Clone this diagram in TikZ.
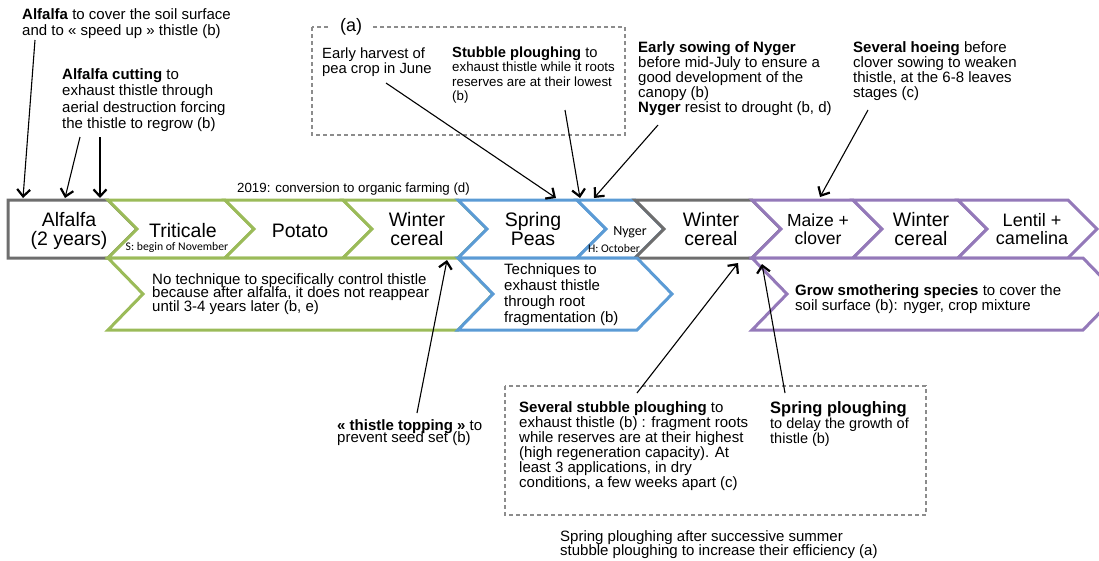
\documentclass[tikz,border=0pt]{standalone}
\usepackage{fontspec}
\setmainfont{Liberation Sans}
\newfontfamily\calib{Carlito}
\usetikzlibrary{arrows.meta}
\definecolor{cgrey}{HTML}{6E6E6E}
\definecolor{cgreen}{HTML}{9BBB59}
\definecolor{cblue}{HTML}{5B9BD5}
\definecolor{cpurple}{HTML}{9479B9}
\definecolor{dashgrey}{HTML}{8C8C8C}
\newcommand\fsz[2]{\fontsize{#1}{#2}\selectfont\lineskiplimit=-50pt\relax}
\newcommand\chevron[6]{%
  \draw[#1, chev] (#2,#4) -- (#3,#4) -- ({#3+#6},{(#4+#5)/2}) -- (#3,#5) -- (#2,#5) -- ({#2+#6},{(#4+#5)/2}) -- cycle;}
\begin{document}
\begin{tikzpicture}[x=1pt,y=-1pt,
  chev/.style={line width=3pt, fill=white, line join=miter},
  croplabel/.style={font=\fsz{19.5}{19}, align=center, inner sep=0pt, anchor=base},
  smalllabel/.style={font=\calib\fsz{11.7}{12}, inner sep=0pt, anchor=base},
  note/.style={align=left, inner sep=0pt, anchor=base west},
  arr/.style={-{Straight Barb[length=7pt,width=13pt,line width=2.2pt]}, line width=1.1pt, black},
  dashbox/.style={dashgrey, line width=1.2pt, dash pattern=on 4pt off 3pt}]
\useasboundingbox (0,0) rectangle (1099,560);
\clip (0,0) rectangle (1099,560);

% dashed boxes
\draw[dashbox] (312,27) rectangle (625,135);
\node[font=\fsz{18}{18}, fill=white, inner xsep=10pt, inner ysep=1pt] (alab) at (351,27) {(a)};
\draw[dashbox] (505,386) rectangle (926,515);

% top row
\draw[cgrey, chev] (8,200) -- (108,200) -- (137,229) -- (108,258) -- (8,258) -- cycle;
\chevron{cgreen}{108}{225}{200}{258}{29}
\chevron{cgreen}{225}{343}{200}{258}{29}
\chevron{cgreen}{343}{458}{200}{258}{29}
\chevron{cblue}{458}{577}{200}{258}{29}
\chevron{cblue}{577}{635}{200}{258}{29}
\chevron{cgrey}{635}{752}{200}{258}{29}
\chevron{cpurple}{752}{853}{200}{258}{29}
\chevron{cpurple}{853}{958}{200}{258}{29}
\chevron{cpurple}{958}{1068}{200}{258}{29}
% lower row
\chevron{cgreen}{108}{458}{258}{330}{35}
\chevron{cblue}{458}{637}{258}{330}{35}
\chevron{cpurple}{752}{1083}{258}{330}{35}

% crop labels (anchor = baseline of last line)
\node[croplabel] (alf) at (69,245) {Alfalfa\\(2 years)};
\node[croplabel] (tri) at (183,237) {Triticale};
\node[smalllabel] (tris) at (177,250.7) {S: begin of November};
\node[croplabel] (pot) at (300,237) {Potato};
\node[croplabel] (wc1) at (417,245) {Winter\\cereal};
\node[croplabel] (pea) at (533,245) {Spring\\Peas};
\node[smalllabel, font=\calib\fsz{14}{14}] (nyg) at (630,235) {Nyger};
\node[smalllabel] (nygh) at (614,252.7) {H: October};
\node[croplabel] (wc2) at (711,245) {Winter\\cereal};
\node[croplabel, font=\fsz{17.5}{18.5}] (mai) at (818,244.5) {Maize +\\clover};
\node[croplabel] (wc3) at (921,245) {Winter\\cereal};
\node[croplabel, font=\fsz{18}{18.5}] (len) at (1032,244.5) {Lentil +\\camelina};

% lower row texts
\node[note, font=\fsz{15}{13.6}] (lg) at (152,311.5) {No technique to specifically control thistle\\because after alfalfa, it does not reappear\\until 3-4 years later (b, e)};
\node[note, font=\fsz{15}{16.2}] (lb) at (504,322.9) {Techniques to\\exhaust thistle\\through root\\fragmentation (b)};
\node[note, font=\fsz{15}{15.7}] (lp) at (795,310.7) {\textbf{Grow smothering species} to cover the\\soil surface (b): nyger, crop mixture};

% annotations
\node[note, font=\fsz{15}{16.5}] (t1) at (22,35.8) {\textbf{Alfalfa} to cover the soil surface\\and to « speed up » thistle (b)};
\node[note, font=\fsz{15}{16.5}] (t2) at (62,128.5) {\textbf{Alfalfa cutting} to\\exhaust thistle through\\aerial destruction forcing\\the thistle to regrow (b)};
\node[note, font=\fsz{13.3}{14}] (t3) at (237,192) {2019: conversion to organic farming (d)};
\node[note, font=\fsz{14.8}{15}] (t4) at (322,73) {Early harvest of\\pea crop in June};
\node[note, font=\fsz{13.3}{14.6}] (t5) at (452,100.8) {{\fsz{14.7}{14.6}\textbf{Stubble ploughing} to}\\exhaust thistle while it roots\\reserves are at their lowest\\(b)};
\node[note, font=\fsz{15}{15}] (t6) at (638,112.5) {\textbf{Early sowing of Nyger}\\before mid-July to ensure a\\good development of the\\canopy (b)\\\textbf{Nyger} resist to drought (b, d)};
\node[note, font=\fsz{15}{15}] (t7) at (853,97.5) {\textbf{Several hoeing} before\\clover sowing to weaken\\thistle, at the 6-8 leaves\\stages (c)};
\node[note, font=\fsz{15}{12.7}] (t8) at (337,442.7) {\textbf{« thistle topping »} to\\prevent seed set (b)};
\node[note, font=\fsz{15}{15}] (t9) at (519,487) {\textbf{Several stubble ploughing} to\\exhaust thistle (b) : fragment roots\\while reserves are at their highest\\(high regeneration capacity). At\\least 3 applications, in dry\\conditions, a few weeks apart (c)};
\node[note, font=\fsz{14.5}{15}] (t10) at (770,443) {{\fsz{16.5}{15}\textbf{Spring ploughing}}\\to delay the growth of\\thistle (b)};
\node[note, font=\fsz{15}{14}] (t11) at (560,555.5) {Spring ploughing after successive summer\\stubble ploughing to increase their efficiency (a)};

% arrow coordinates
\coordinate (s1) at (35,40);   \coordinate (e1) at (23,198);
\coordinate (s2) at (80,137);  \coordinate (e2) at (65,198);
\coordinate (s3) at (100,137); \coordinate (e3) at (100,198);
\coordinate (s4) at (386,83);  \coordinate (e4) at (556,198);
\coordinate (s5) at (565,110); \coordinate (e5) at (580,198);
\coordinate (s6) at (658,125); \coordinate (e6) at (594,198);
\coordinate (s7) at (868,110); \coordinate (e7) at (820,197);
\coordinate (s8) at (417,413); \coordinate (e8) at (447,260);
\coordinate (s9) at (637,393); \coordinate (e9) at (738,263);
\coordinate (s10) at (785,393); \coordinate (e10) at (762,264);
\foreach \i in {1,...,10} { \draw[arr] (s\i) -- (e\i); }
\end{tikzpicture}
\end{document}
